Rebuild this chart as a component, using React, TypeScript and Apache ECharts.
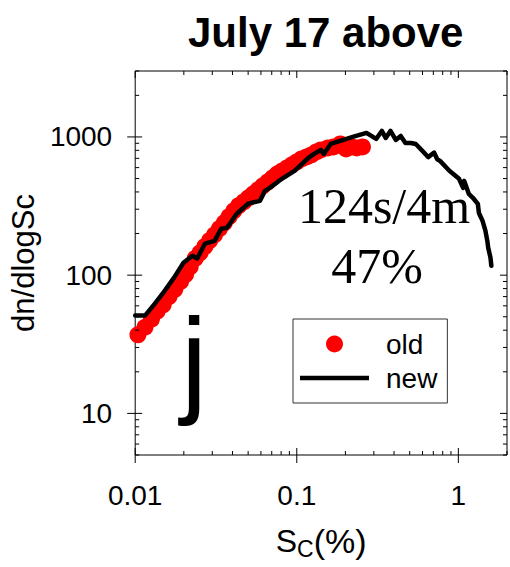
import React, { useEffect, useRef } from "react";
import * as echarts from "echarts";

const titleText = "July 17 above";

const oldX = [0.0104, 0.0115, 0.0126, 0.0137, 0.0149, 0.0162, 0.0176, 0.0191, 0.0205, 0.0219, 0.0235, 0.0252, 0.027, 0.0289, 0.031, 0.0332, 0.0356, 0.0381, 0.0408, 0.0437, 0.0469, 0.0502, 0.0538, 0.0576, 0.0617, 0.0661, 0.0709, 0.0759, 0.0813, 0.0871, 0.0933, 0.1, 0.107, 0.115, 0.123, 0.132, 0.141, 0.156, 0.169, 0.186, 0.202, 0.219, 0.235, 0.255];
const oldY = [37, 42, 48, 55, 61, 70, 79, 90, 101, 115, 132, 145, 161, 178, 196, 217, 239, 265, 292, 318, 339, 363, 388, 414, 443, 473, 506, 541, 568, 597, 628, 660, 694, 717, 741, 779, 806, 833, 847, 890, 819, 847, 833, 847];

const newX = [0.01, 0.0115, 0.0132, 0.0151, 0.0174, 0.0199, 0.0226, 0.0242, 0.027, 0.031, 0.0341, 0.037, 0.0425, 0.0502, 0.0592, 0.0635, 0.068, 0.0813, 0.0973, 0.118, 0.128, 0.141, 0.147, 0.162, 0.186, 0.222, 0.27, 0.31, 0.336, 0.355, 0.38, 0.41, 0.44, 0.47, 0.509, 0.545, 0.6, 0.65, 0.708, 0.74, 0.77, 0.88, 1.01, 1.07, 1.087, 1.16, 1.23, 1.32, 1.34, 1.41, 1.47, 1.51, 1.53, 1.58, 1.6];
const newY = [51, 51, 62, 76, 96, 123, 138, 132, 169, 177, 217, 220, 278, 330, 345, 407, 428, 500, 570, 705, 754, 806, 754, 890, 936, 1000, 1069, 967, 1105, 984, 1105, 951, 1017, 905, 905, 890, 792, 715, 770, 690, 671, 569, 498, 428, 481, 388, 363, 328, 282, 248, 210, 178, 158, 134, 117];

const xMajorTicks = [0.01, 0.1, 1];
const xMinorTicks = [0.02, 0.03, 0.04, 0.05, 0.06, 0.07, 0.08, 0.09, 0.2, 0.3, 0.4, 0.5, 0.6, 0.7, 0.8, 0.9, 2];
const yMajorTicks = [10, 100, 1000];
const yMinorTicks = [5, 6, 7, 8, 9, 20, 30, 40, 50, 60, 70, 80, 90, 200, 300, 400, 500, 600, 700, 800, 900, 2000, 3000];

const annotationLine1 = "124s/4m";
const annotationLine2 = "47%";
const panelLetter = "j";

const SANS = "'Liberation Sans', Arial, Helvetica, sans-serif";
const SERIF = "'Liberation Serif', 'Times New Roman', serif";

function isPow10(v: number) {
  const l = Math.log10(v);
  return Math.abs(l - Math.round(l)) < 1e-6;
}

export default function App() {
  const ref = useRef<HTMLDivElement>(null);
  useEffect(() => {
    if (!ref.current) return;
    const chart = echarts.init(ref.current, null, { renderer: "svg" });

    const xTickData = [
      ...xMajorTicks.map((v) => [v, 100, 1]),
      ...xMinorTicks.map((v) => [v, 100, 0]),
    ];
    const yTickData = [
      ...yMajorTicks.map((v) => [0.1, v, 1]),
      ...yMinorTicks.map((v) => [0.1, v, 0]),
    ];

    const tickStyle = { stroke: "#000", lineWidth: 1 };

    chart.setOption({
      animation: false,
      title: {
        text: titleText,
        left: 183,
        top: 6,
        textStyle: { fontSize: 42, fontWeight: "bold", fontFamily: SANS, color: "#000" },
      },
      legend: {
        data: [
          { name: "old", icon: "circle" },
          { name: "new", icon: "path://M0,0 L69,0 L69,4.5 L0,4.5 Z" },
        ],
        orient: "vertical",
        left: 293,
        top: 319,
        itemWidth: 69,
        itemHeight: 17,
        itemGap: 6,
        padding: [11, 10, 11, 7],
        borderColor: "#333",
        borderWidth: 1,
        textStyle: { fontSize: 28, color: "#000", fontFamily: SANS, padding: [0, 0, 0, 12] },
      },
      grid: {
        left: 128,
        top: 71,
        width: 384,
        height: 384,
        show: true,
        borderColor: "#000",
        borderWidth: 1,
        backgroundColor: "transparent",
      },
      xAxis: {
        type: "log",
        logBase: 10,
        min: 0.01,
        max: 2,
        axisLine: { show: false },
        axisTick: { show: false },
        splitLine: { show: false },
        axisLabel: {
          margin: 26,
          fontSize: 28,
          color: "#000",
          fontFamily: SANS,
          formatter: (v: number) => (isPow10(v) ? String(Number(v.toPrecision(6))) : ""),
        },
        name: "{s|S}{c|C}{p|(%)}",
        nameLocation: "middle",
        nameGap: 66,
        nameTextStyle: {
          rich: {
            s: { fontSize: 32, fontFamily: SANS, color: "#000" },
            c: { fontSize: 23, fontFamily: SANS, color: "#000", padding: [16, 0, 0, 0] },
            p: { fontSize: 34, fontFamily: SANS, color: "#000" },
          },
        },
      },
      yAxis: {
        type: "log",
        logBase: 10,
        min: 5,
        max: 3000,
        axisLine: { show: false },
        axisTick: { show: false },
        splitLine: { show: false },
        axisLabel: {
          margin: 23,
          fontSize: 28,
          color: "#000",
          fontFamily: SANS,
          formatter: (v: number) => (isPow10(v) ? String(Math.round(v)) : ""),
        },
        name: "dn/dlogSc",
        nameLocation: "middle",
        nameGap: 85,
        nameTextStyle: { fontSize: 31, fontFamily: SANS, color: "#000" },
      },
      series: [
        {
          name: "old",
          type: "scatter",
          data: oldX.map((x, i) => [x, oldY[i]]),
          symbol: "circle",
          symbolSize: 17,
          itemStyle: { color: "#ff0000", opacity: 1 },
          z: 2,
        },
        {
          name: "new",
          type: "line",
          data: newX.map((x, i) => [x, newY[i]]),
          showSymbol: false,
          symbol: "none",
          lineStyle: { color: "#000", width: 4.5, join: "round", cap: "round" },
          itemStyle: { color: "#000" },
          z: 3,
        },
        {
          type: "custom",
          name: "xticks",
          data: xTickData,
          silent: true,
          z: 4,
          renderItem: (params: any, api: any) => {
            const cs = params.coordSys;
            const px = api.coord([api.value(0), 100])[0];
            const major = api.value(2) === 1;
            const bottom = cs.y + cs.height;
            const top = cs.y;
            const lenIn = major ? 7 : 4;
            return {
              type: "group",
              children: [
                { type: "line", shape: { x1: px, y1: bottom + (major ? 8 : 0), x2: px, y2: bottom - lenIn }, style: tickStyle },
                { type: "line", shape: { x1: px, y1: top, x2: px, y2: top + lenIn }, style: tickStyle },
              ],
            };
          },
        },
        {
          type: "custom",
          name: "yticks",
          data: yTickData,
          silent: true,
          z: 4,
          renderItem: (params: any, api: any) => {
            const cs = params.coordSys;
            const py = api.coord([0.1, api.value(1)])[1];
            const major = api.value(2) === 1;
            const left = cs.x;
            const right = cs.x + cs.width;
            const lenIn = major ? 7 : 4;
            return {
              type: "group",
              children: [
                { type: "line", shape: { x1: left - (major ? 8 : 0), y1: py, x2: left + lenIn, y2: py }, style: tickStyle },
                { type: "line", shape: { x1: right - lenIn, y1: py, x2: right, y2: py }, style: tickStyle },
              ],
            };
          },
        },
      ],
      graphic: [
        {
          type: "text",
          x: 384,
          y: 206,
          style: { text: annotationLine1, font: `50px ${SERIF}`, fill: "#000", textAlign: "center", textVerticalAlign: "middle" },
          z: 10,
        },
        {
          type: "text",
          x: 377,
          y: 266,
          style: { text: annotationLine2, font: `50px ${SERIF}`, fill: "#000", textAlign: "center", textVerticalAlign: "middle" },
          z: 10,
        },
        {
          type: "text",
          x: 181,
          y: 360,
          style: { text: panelLetter, font: `118px ${SANS}`, fill: "#000", textAlign: "left", textVerticalAlign: "middle" },
          z: 10,
        },
      ],
    });
    return () => chart.dispose();
  }, []);
  return <div ref={ref} style={{ position: "absolute", left: 0, top: 0, width: 510, height: 567 }} />;
}
